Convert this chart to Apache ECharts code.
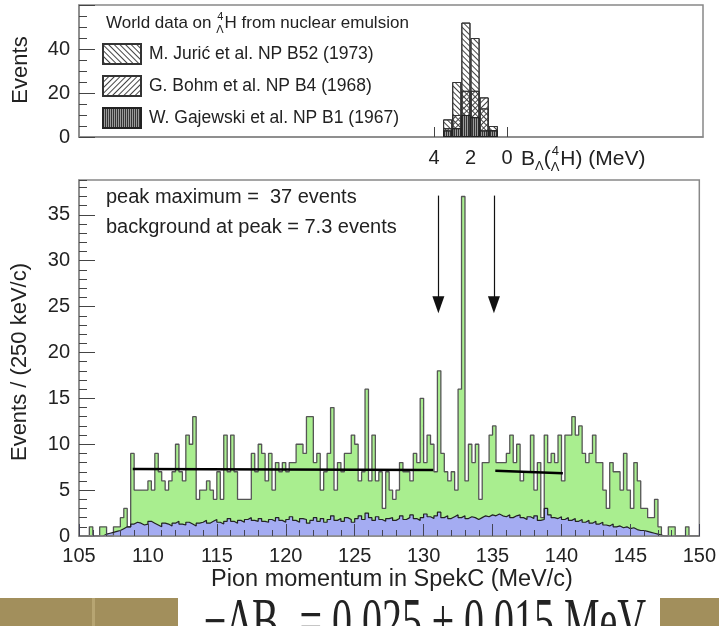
<!DOCTYPE html>
<html>
<head>
<meta charset="utf-8">
<script src="https://cdn.jsdelivr.net/npm/echarts@6/dist/echarts.min.js"></script>
<style>
  html, body { margin: 0; padding: 0; background: #fff; }
  #chart { width: 719px; height: 626px; }
</style>
</head>
<body>
<div id="chart"></div>
<script>
// ---- data ----
// main histogram: 250 keV/c bins starting at 105 MeV/c
var binStart = 105;
var binWidth = 0.25;
var totalEvents = [
  0,0,0,1,0,0,1,1,0,0,
  1,1,2,3,1,9,5,5,5,5,
  6,5,9,7,6,5,6,7,10,7,
  6,11,10,13,4,5,5,6,5,4,
  7,4,11,7,11,7,4,4,4,4,
  9,7,10,9,6,9,5,8,7,8,
  7,8,8,10,10,9,13,13,8,9,
  5,7,9,14,5,8,7,9,9,11,
  10,6,7,16,6,11,6,7,3,7,
  5,4,5,8,7,7,6,9,8,15,
  8,11,10,7,18,9,7,6,7,5,
  16,37,6,10,8,10,4,8,8,11,
  12,8,8,8,9,11,8,10,6,7,
  7,11,5,8,2,11,8,9,8,11,
  6,11,11,13,11,12,9,8,9,11,
  8,8,5,3,8,7,7,5,9,5,
  3,8,6,3,3,2,2,4,1,0,
  0,1,1,0,0,0,1,0,0,0
];
var backgroundEvents = [
  0,0,0,0,0,0,0,0.2,0.3,0.4,
  0.5,0.6,0.8,1.0,1.0,1.3,1.5,1.4,1.2,1.3,
  1.6,1.4,1.2,1.0,1.4,1.3,1.1,1.4,1.6,1.3,
  1.2,1.5,1.3,1.1,1.4,1.5,1.7,1.4,1.6,1.8,
  1.5,1.3,1.6,1.9,1.6,1.4,1.7,1.5,1.8,2.0,
  1.7,1.6,1.9,1.6,1.5,1.8,1.6,2.0,1.7,1.5,
  1.8,2.1,1.7,1.5,1.9,1.8,1.4,1.7,2.0,1.6,
  1.9,1.5,1.8,2.2,1.7,1.9,1.6,2.0,1.8,1.5,
  1.9,2.2,1.8,2.5,2.0,1.7,2.1,1.8,1.6,1.9,
  2.0,1.7,1.9,2.2,1.8,2.0,2.3,1.9,1.7,2.0,
  2.4,2.1,1.9,2.2,2.6,2.0,2.2,1.9,2.1,2.3,
  2.0,2.2,1.9,2.1,2.0,1.8,2.0,2.2,2.1,2.3,
  2.2,2.4,2.2,2.1,2.3,2.0,2.2,2.3,2.0,1.8,
  2.1,1.9,2.2,1.7,1.8,3.0,2.3,2.0,1.9,2.1,
  1.8,2.0,1.7,1.9,1.6,1.8,1.5,1.7,1.4,1.6,
  1.3,1.5,1.2,1.1,1.3,1.0,1.1,0.9,1.0,0.8,
  0.9,0.7,0.6,0.6,0.5,0.4,0.3,0.2,0.1,0,
  0,0,0,0,0,0,0,0,0,0
];
var fitLeft = [[108.9, 7.3], [130.7, 7.2]];
var fitRight = [[135.2, 7.1], [140.1, 6.85]];
var arrowPion = [131.07, 135.1];
var arrowFrom = 37.1, arrowTo = 25.2;
var xTicks = [105, 150];

// inset: world emulsion data, B_Lambda bins of 0.5 MeV
var emulsionB = [3.25, 2.75, 2.25, 1.75, 1.25, 0.75];
var emulsionBin = 0.5;
var juric = [8, 25, 52, 45, 13, 5];
var bohm = [4, 10, 21, 21, 18, 3];
var gajewski = [3, 4, 10, 9, 3, 3];
var legendNames = ['M. Jurić et al. NP B52 (1973)', 'G. Bohm et al. NP B4 (1968)', 'W. Gajewski et al. NP B1 (1967)'];

// ---- layout ----
var FONT = '"Liberation Sans", Arial, sans-serif';
var TXT = '#222';
var GL = 79, GR = 703;
var insetTop = 5, insetBottom = 137;
var mainTop = 180, mainBottom = 536;
var bMin = -10.74, bMax = 23.45;
var barPx = emulsionBin * (GR - GL) / (bMax - bMin);

function stepData(vals) {
  var d = [[binStart, 0]];
  vals.forEach(function (v, i) { d.push([binStart + i * binWidth, v]); });
  var end = binStart + vals.length * binWidth;
  d.push([end, vals[vals.length - 1]]);
  d.push([end, 0]);
  return d;
}
function pairs(xs, ys) { return xs.map(function (x, i) { return [x, ys[i]]; }); }

var mctx = document.createElement('canvas').getContext('2d');
function tw(t, size) { mctx.font = size + 'px "Liberation Sans"'; return mctx.measureText(t).width; }

function txt(t, x, y, size, opts) {
  opts = opts || {};
  return {
    type: 'text', x: x, y: y, rotation: opts.rotation || 0, z: 100, silent: true,
    style: { text: t, font: (opts.font || (size + 'px ' + FONT)), fill: opts.fill || TXT,
      align: opts.align || 'left', verticalAlign: opts.va || 'middle' }
  };
}

var graphics = [];
// axis titles
graphics.push(txt('Events', 21, 70, 22, { rotation: Math.PI / 2, align: 'center' }));
graphics.push(txt('Events / (250 keV/c)', 20, 362, 22, { rotation: Math.PI / 2, align: 'center' }));
graphics.push(txt('Pion momentum in SpekC (MeV/c)', 392, 580, 23.5, { align: 'center' }));
// inset header
(function () {
  var x = 106, s = 17;
  graphics.push(txt('World data on ', x, 23, s));
  x += tw('World data on ', s);
  graphics.push(txt('4', x + 1, 17, 11));
  graphics.push(txt('Λ', x, 30, 11));
  x += Math.max(tw('4', 11), tw('Λ', 11)) + 1;
  graphics.push(txt('H from nuclear emulsion', x, 23, s));
})();
// B_Lambda axis title
(function () {
  var x = 521, s = 21, y = 159;
  graphics.push(txt('B', x, y, s)); x += tw('B', s);
  graphics.push(txt('Λ', x, y + 7, 13)); x += tw('Λ', 13);
  graphics.push(txt('(', x, y, s)); x += tw('(', s);
  graphics.push(txt('4', x + 1, y - 8, 13));
  graphics.push(txt('Λ', x, y + 8, 13)); x += tw('Λ', 13) + 1;
  graphics.push(txt('H) (MeV)', x, y, s));
})();
// annotations
graphics.push(txt('peak maximum =  37 events', 106, 197, 20));
graphics.push(txt('background at peak = 7.3 events', 106, 227, 20));
// cropped slide strip below the figure
graphics.push({ type: 'rect', silent: true, shape: { x: 0, y: 598, width: 178, height: 28 }, style: { fill: '#a28f5c' } });
graphics.push({ type: 'rect', silent: true, shape: { x: 92, y: 598, width: 3, height: 28 }, style: { fill: '#b7a572' } });
graphics.push({ type: 'rect', silent: true, shape: { x: 660, y: 598, width: 59, height: 28 }, style: { fill: '#a28f5c' } });
graphics.push({
  type: 'text', x: 425, y: 588, scaleY: 1.6, silent: true,
  style: { text: '−ΔB{c|c} = 0.025 ± 0.015 MeV', font: '40px "Liberation Serif", serif', fill: '#222',
    align: 'center', verticalAlign: 'top', rich: { c: { fontSize: 24, fontFamily: 'Liberation Serif', fill: '#222', padding: [22, 0, 0, 0] } } }
});

var hatch = function (rot) {
  return { symbol: 'rect', symbolSize: 1, dashArrayX: [1, 0], dashArrayY: [1, 3], rotation: rot, color: '#444' };
};

var chart = echarts.init(document.getElementById('chart'), null, { renderer: 'canvas' });
var option = {
  animation: false,
  backgroundColor: '#fff',
  textStyle: { fontFamily: FONT },
  grid: [
    { left: GL, top: insetTop, width: GR - GL, height: insetBottom - insetTop, show: true, borderColor: '#888', borderWidth: 1.5 },
    { left: GL, top: mainTop, width: GR - GL, height: mainBottom - mainTop, show: true, borderColor: '#888', borderWidth: 1.5 }
  ],
  legend: {
    data: legendNames, orient: 'vertical', left: 102, top: 43, itemWidth: 38, itemHeight: 20, itemGap: 10,
    icon: 'rect', selectedMode: false, padding: 0,
    textStyle: { fontSize: 17.5, color: TXT, fontFamily: FONT, padding: [0, 0, 0, 3] }
  },
  xAxis: [
    {
      gridIndex: 0, type: 'value', inverse: true, min: bMin, max: bMax,
      axisLine: { onZero: false, lineStyle: { color: '#888', width: 1.5 } },
      axisTick: { inside: true, length: 10, customValues: [0, 4], lineStyle: { color: '#444' } },
      axisLabel: { customValues: [0, 2, 4], fontSize: 20, color: TXT, margin: 11, fontFamily: FONT },
      splitLine: { show: false }
    },
    {
      gridIndex: 1, type: 'value', min: xTicks[0], max: xTicks[1], interval: 5, z: 5,
      axisLine: { onZero: false, lineStyle: { color: '#888', width: 1.5 } },
      axisTick: { inside: true, length: 12, lineStyle: { color: '#445' } },
      minorTick: { show: true, splitNumber: 5, length: 6, lineStyle: { color: '#445' } },
      axisLabel: { fontSize: 20, color: TXT, margin: 10, fontFamily: FONT },
      splitLine: { show: false }
    }
  ],
  yAxis: [
    {
      gridIndex: 0, type: 'value', position: 'left', min: 0, max: 60, interval: 20,
      axisLine: { show: true, onZero: false, lineStyle: { color: '#888', width: 1.5 } },
      axisTick: { inside: true, length: 16, lineStyle: { color: '#444' } },
      minorTick: { show: true, splitNumber: 4, length: 8, lineStyle: { color: '#444' } },
      axisLabel: { fontSize: 20, color: TXT, margin: 9, fontFamily: FONT,
        formatter: function (v) { return v === 60 ? '' : String(v); } },
      splitLine: { show: false }
    },
    {
      gridIndex: 1, type: 'value', position: 'left', min: 0, max: 38.8, interval: 5,
      axisLine: { show: true, onZero: false, lineStyle: { color: '#888', width: 1.5 } },
      axisTick: { inside: true, length: 16, lineStyle: { color: '#444' } },
      axisLabel: { fontSize: 20, color: TXT, margin: 9, fontFamily: FONT, showMaxLabel: false,
        formatter: function (v) { return v % 5 === 0 ? String(v) : ''; } },
      splitLine: { show: false }
    },
    {
      gridIndex: 1, type: 'value', position: 'left', offset: 0, min: 0, max: 38.8, interval: 1,
      axisLine: { show: false, onZero: false },
      axisTick: { inside: true, length: 8, lineStyle: { color: '#444' } },
      axisLabel: { show: false },
      splitLine: { show: false }
    }
  ],
  graphic: graphics,
  series: [
    {
      name: legendNames[0], type: 'bar', xAxisIndex: 0, yAxisIndex: 0, barWidth: barPx, barGap: '-100%',
      data: pairs(emulsionB, juric),
      itemStyle: { color: 'rgba(255,255,255,0)', borderColor: '#333', borderWidth: 1, decal: hatch(Math.PI / 4) }
    },
    {
      name: legendNames[1], type: 'bar', xAxisIndex: 0, yAxisIndex: 0, barWidth: barPx, barGap: '-100%',
      data: pairs(emulsionB, bohm),
      itemStyle: { color: 'rgba(255,255,255,0)', borderColor: '#333', borderWidth: 1, decal: hatch(-Math.PI / 4) }
    },
    {
      name: legendNames[2], type: 'bar', xAxisIndex: 0, yAxisIndex: 0, barWidth: barPx, barGap: '-100%',
      data: pairs(emulsionB, gajewski),
      itemStyle: { color: '#9a9a9a', borderColor: '#222', borderWidth: 1,
        decal: { symbol: 'rect', symbolSize: 1, dashArrayX: [1, 1], dashArrayY: [4, 0], rotation: 0, color: '#333' } }
    },
    {
      name: 'total', type: 'line', xAxisIndex: 1, yAxisIndex: 1, step: 'end', showSymbol: false, symbol: 'none',
      data: stepData(totalEvents),
      lineStyle: { color: '#555', width: 1.3 },
      areaStyle: { color: '#a9ee8f', opacity: 1 }
    },
    {
      name: 'background', type: 'line', xAxisIndex: 1, yAxisIndex: 1, step: 'end', showSymbol: false, symbol: 'none',
      data: stepData(backgroundEvents),
      lineStyle: { color: '#222', width: 1.2 },
      areaStyle: { color: '#a4acf2', opacity: 1 }
    },
    {
      name: 'fitL', type: 'line', xAxisIndex: 1, yAxisIndex: 1, showSymbol: false, symbol: 'none', z: 6,
      data: fitLeft, lineStyle: { color: '#000', width: 2.5 },
      markLine: {
        silent: true, symbol: ['none', 'triangle'], symbolSize: [12, 17],
        lineStyle: { color: '#111', width: 1.2, type: 'solid' }, label: { show: false },
        data: arrowPion.map(function (p) { return [{ coord: [p, arrowFrom] }, { coord: [p, arrowTo] }]; })
      }
    },
    {
      name: 'fitR', type: 'line', xAxisIndex: 1, yAxisIndex: 1, showSymbol: false, symbol: 'none', z: 6,
      data: fitRight, lineStyle: { color: '#000', width: 2.5 }
    }
  ]
};
chart.setOption(option);
</script>
</body>
</html>
